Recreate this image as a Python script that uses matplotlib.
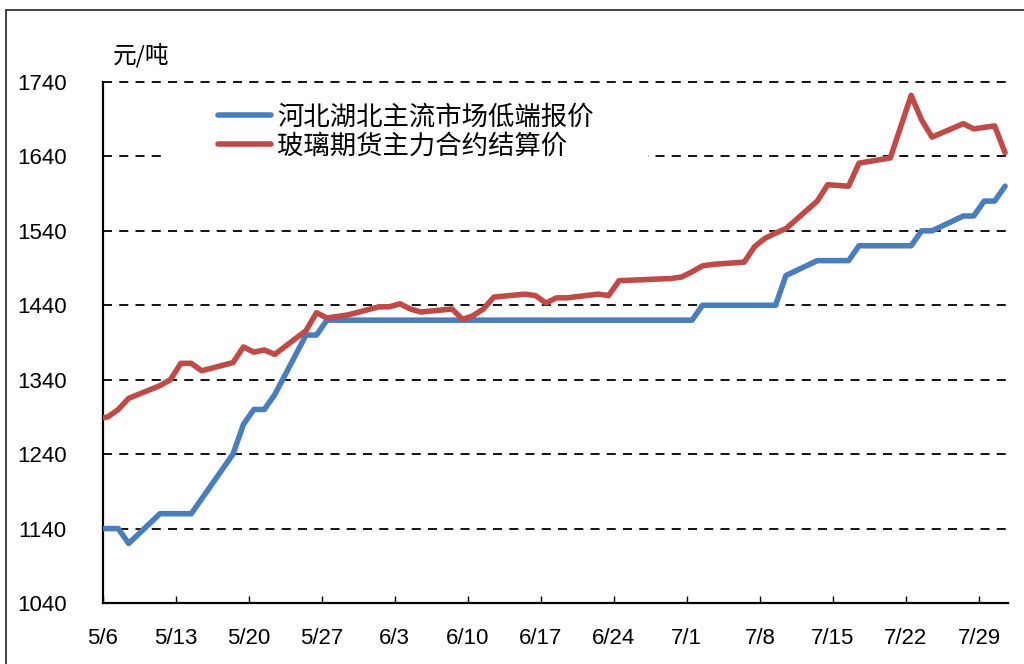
import pandas as pd
import matplotlib
matplotlib.use("Agg")
import matplotlib.pyplot as plt
from matplotlib.patches import Rectangle

plt.rcParams['font.family'] = ['Liberation Sans', 'Noto Sans CJK SC', 'DejaVu Sans']

# ---------------- data ----------------
dates = [
    "2020-04-30",
    "2020-05-06", "2020-05-07", "2020-05-08",
    "2020-05-11", "2020-05-12", "2020-05-13", "2020-05-14", "2020-05-15",
    "2020-05-18", "2020-05-19", "2020-05-20", "2020-05-21", "2020-05-22",
    "2020-05-25", "2020-05-26", "2020-05-27", "2020-05-28", "2020-05-29",
    "2020-06-01", "2020-06-02", "2020-06-03", "2020-06-04", "2020-06-05",
    "2020-06-08", "2020-06-09", "2020-06-10", "2020-06-11", "2020-06-12",
    "2020-06-15", "2020-06-16", "2020-06-17", "2020-06-18", "2020-06-19",
    "2020-06-22", "2020-06-23", "2020-06-24",
    "2020-06-29", "2020-06-30", "2020-07-01", "2020-07-02", "2020-07-03",
    "2020-07-06", "2020-07-07", "2020-07-08", "2020-07-09", "2020-07-10",
    "2020-07-13", "2020-07-14", "2020-07-15", "2020-07-16", "2020-07-17",
    "2020-07-20", "2020-07-21", "2020-07-22", "2020-07-23", "2020-07-24",
    "2020-07-27", "2020-07-28", "2020-07-29", "2020-07-30", "2020-07-31",
]

spot_low = [
    1140,
    1140, 1140, 1120,
    1160, 1160, 1160, 1160, 1180,
    1240, 1280, 1300, 1300, 1320,
    1400, 1400, 1420, 1420, 1420,
    1420, 1420, 1420, 1420, 1420,
    1420, 1420, 1420, 1420, 1420,
    1420, 1420, 1420, 1420, 1420,
    1420, 1420, 1420,
    1420, 1420, 1420, 1440, 1440,
    1440, 1440, 1440, 1440, 1480,
    1500, 1500, 1500, 1500, 1520,
    1520, 1520, 1520, 1540, 1540,
    1560, 1560, 1580, 1580, 1600,
]

futures_settle = [
    1275,
    1290, 1300, 1315,
    1332, 1340, 1362, 1362, 1352,
    1363, 1384, 1377, 1380, 1374,
    1406, 1430, 1423, 1425, 1427,
    1438, 1438, 1442, 1435, 1431,
    1435, 1421, 1426, 1435, 1451,
    1455, 1453, 1443, 1450, 1450,
    1455, 1453, 1473,
    1476, 1478, 1485, 1493, 1495,
    1498, 1519, 1530, 1537, 1543,
    1580, 1602, 1601, 1600, 1631,
    1638, 1680, 1722, 1689, 1666,
    1684, 1677, 1679, 1681, 1645,
]

series_names = ["河北湖北主流市场低端报价", "玻璃期货主力合约结算价"]
tick_dates = ["2020-05-06", "2020-05-13", "2020-05-20", "2020-05-27", "2020-06-03",
              "2020-06-10", "2020-06-17", "2020-06-24", "2020-07-01", "2020-07-08",
              "2020-07-15", "2020-07-22", "2020-07-29"]
tick_labels = ["5/6", "5/13", "5/20", "5/27", "6/3", "6/10", "6/17",
               "6/24", "7/1", "7/8", "7/15", "7/22", "7/29"]
y_ticks = [1040, 1140, 1240, 1340, 1440, 1540, 1640, 1740]
unit = "元/吨"

# ---------------- figure ----------------
W, H = 1024, 664
fig = plt.figure(figsize=(W / 100, H / 100), dpi=100)
ax = fig.add_axes([102.6 / W, 1 - 603 / H, 905.6 / W, 521 / H])

# daily points sit in the middle of each date cell
x = pd.to_datetime(dates) + pd.Timedelta(hours=12)

blue = "#4A7EBB"
red = "#BE4B48"
ax.plot(x, spot_low, color=blue, lw=4, solid_joinstyle="round",
        solid_capstyle="round", zorder=4, label=series_names[0])
ax.plot(x, futures_settle, color=red, lw=4, solid_joinstyle="round",
        solid_capstyle="round", zorder=5, label=series_names[1])

x0 = pd.Timestamp("2020-05-06")
ax.set_xlim(x0, x0 + pd.Timedelta(days=86.8))
ax.set_ylim(y_ticks[0], y_ticks[-1])

# dashed grid
for v in y_ticks[1:]:
    ax.axhline(v, color="black", lw=1.3, ls=(0, (5, 4)), zorder=1, clip_on=False)

ax.set_yticks(y_ticks)
ax.set_yticklabels([str(v) for v in y_ticks])
ax.set_xticks(pd.to_datetime(tick_dates))
ax.set_xticklabels(tick_labels)
ax.tick_params(axis="y", length=0, pad=26, labelsize=16)
ax.tick_params(axis="x", direction="in", length=5, width=1, pad=18, labelsize=16)

for s in ["top", "right"]:
    ax.spines[s].set_visible(False)
for s in ["left", "bottom"]:
    ax.spines[s].set_linewidth(1.6)
    ax.spines[s].set_color("black")

# legend sits on a white block that hides the grid behind it
ax.add_patch(Rectangle((168 / W, 1 - 168 / H), (648 - 168) / W, 68 / H,
                       transform=fig.transFigure, facecolor="white",
                       edgecolor="none", zorder=2))
ax.legend(loc="center left", bbox_to_anchor=(218 / W, 1 - 131.5 / H),
          bbox_transform=fig.transFigure, frameon=False, borderpad=0,
          borderaxespad=0, handlelength=2.0, handletextpad=0.25,
          labelspacing=0.08, prop={"family": "Noto Sans CJK SC", "size": 19})

fig.text(113 / W, 1 - 55 / H, unit, ha="left", va="center", fontsize=17,
         family=["Noto Sans CJK SC"])

# outer frame
fig.add_artist(Rectangle((6 / W, -0.05), 1.1, 1.05 - 10 / H,
                         transform=fig.transFigure, fill=False,
                         edgecolor="#222222", lw=1.2))

fig.savefig("out.png", dpi=100)
